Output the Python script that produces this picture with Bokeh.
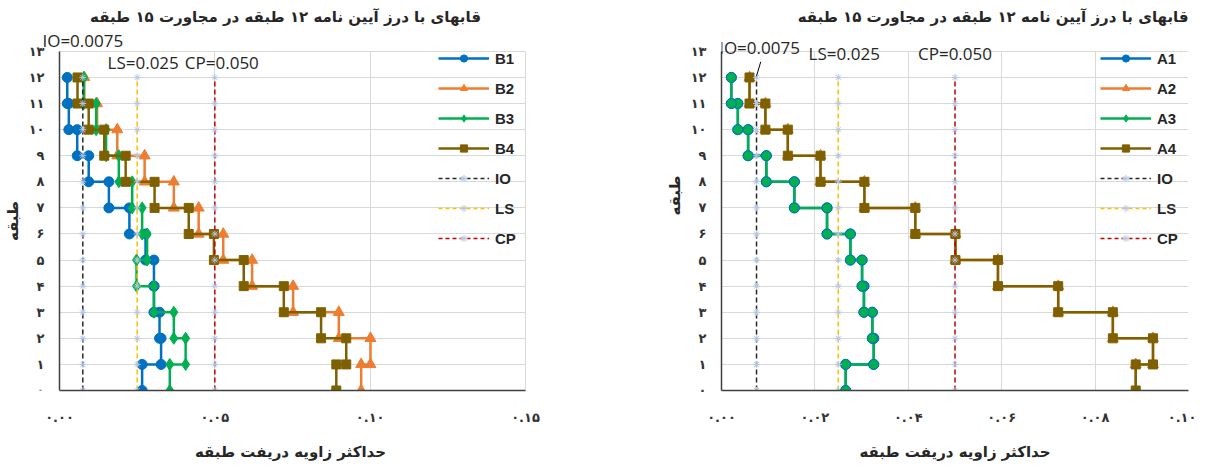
import math
from bokeh.plotting import figure
from bokeh.models import Legend, LegendItem, Label, FixedTicker, Range1d, BoxAnnotation, Grid
from bokeh.layouts import row
from bokeh.embed import file_html
from bokeh.resources import INLINE

# ---------------- data ----------------
floors = list(range(13))                      # floor levels 0..12
y_tick_values = list(range(14))
y_tick_labels = ["۰", "۱", "۲", "۳", "۴", "۵", "۶", "۷", "۸", "۹", "۱۰", "۱۱", "۱۲", "۱۳"]

x_ticks_left = [0.0, 0.05, 0.10, 0.15]
x_labels_left = ["۰.۰۰", "۰.۰۵", "۰.۱۰", "۰.۱۵"]
x_ticks_right = [0.0, 0.02, 0.04, 0.06, 0.08, 0.10]
x_labels_right = ["۰.۰۰", "۰.۰۲", "۰.۰۴", "۰.۰۶", "۰.۰۸", "۰.۱۰"]

# story drift (stories 1..12)
B1 = [0.0266, 0.0327, 0.0322, 0.0304, 0.0304, 0.0277, 0.0225, 0.0159, 0.0094, 0.0057, 0.0030, 0.0025]
B2 = [0.0971, 0.1001, 0.0899, 0.0752, 0.0620, 0.0527, 0.0448, 0.0368, 0.0274, 0.0186, 0.0121, 0.0080]
B3 = [0.0355, 0.0406, 0.0368, 0.0304, 0.0248, 0.0282, 0.0266, 0.0234, 0.0191, 0.0150, 0.0118, 0.0078]
B4 = [0.0891, 0.0923, 0.0842, 0.0722, 0.0593, 0.0497, 0.0416, 0.0306, 0.0213, 0.0144, 0.0094, 0.0058]

A1 = [0.0266, 0.0326, 0.0323, 0.0305, 0.0301, 0.0276, 0.0226, 0.0156, 0.0096, 0.0057, 0.0035, 0.0021]
A2 = [0.0887, 0.0924, 0.0838, 0.0721, 0.0592, 0.0501, 0.0415, 0.0306, 0.0212, 0.0142, 0.0094, 0.0060]
A3 = [0.0266, 0.0326, 0.0323, 0.0305, 0.0301, 0.0276, 0.0226, 0.0156, 0.0096, 0.0057, 0.0035, 0.0021]
A4 = [0.0887, 0.0924, 0.0838, 0.0721, 0.0592, 0.0501, 0.0415, 0.0306, 0.0212, 0.0142, 0.0094, 0.0060]

limit_names = ["IO", "LS", "CP"]
limit_values = [0.0075, 0.025, 0.050]
limit_texts = ["IO=0.0075", "LS=0.025", "CP=0.050"]

title_text = "قابهای با درز آیین نامه ۱۲ طبقه در مجاورت ۱۵ طبقه"
x_title = "حداکثر زاویه دریفت طبقه"
y_title = "طبقه"

# ---------------- styles ----------------
BLUE, ORANGE, GREEN, BROWN = "#0070C0", "#ED7D31", "#00B050", "#7F6000"
LIMIT_COLORS = ["#262626", "#FFC000", "#C00000"]
STAR = "#B4C7E7"
PERSIAN_FONT = "DejaVu Sans"
NAN = float("nan")
Y_LAST = 13
FRAME_H = 390
FLOOR_PX = 360 / 13.8
HAS_CROSS = "cross_bounds" in Grid.properties()


def step(d):
    xs, ys = [], []
    for i, v in enumerate(d):
        xs += [v, v]
        ys += [floors[i], floors[i + 1]]
    return xs, ys


def make_fig(fw, bl, br, xmin, xmax, xend, xt, xl, inner_axis):
    p = figure(frame_width=fw, frame_height=FRAME_H, x_range=Range1d(xmin, xend),
               y_range=Range1d(0, FRAME_H / FLOOR_PX), output_backend="svg", toolbar_location=None,
               min_border_left=bl, min_border_right=br, min_border_top=0, min_border_bottom=70,
               title=None)
    p.outline_line_color = None
    p.background_fill_color = "white"
    p.border_fill_color = "white"

    p.xaxis.ticker = FixedTicker(ticks=xt)
    p.xaxis.major_label_overrides = dict(zip(xt, xl))
    p.xaxis.bounds = (0, xmax)
    p.yaxis.ticker = FixedTicker(ticks=y_tick_values)
    p.yaxis.major_label_overrides = dict(zip(y_tick_values, y_tick_labels))
    p.yaxis.bounds = (0, Y_LAST)
    if inner_axis:
        # the y axis sits at x = 0 inside a widened plot area,
        # so that the IO label may reach left of the axis as in the original
        p.yaxis.fixed_location = 0
    for ax in (p.xaxis, p.yaxis):
        ax.major_tick_line_color = None
        ax.minor_tick_line_color = None
        ax.major_tick_out = 0
        ax.major_tick_in = 0
        ax.axis_line_color = "#404040"
        ax.axis_line_width = 1.5
        ax.major_label_text_font = PERSIAN_FONT
        ax.major_label_text_font_style = "bold"
        ax.major_label_text_font_size = "13px"
        ax.major_label_text_color = "#333333"
        ax.axis_label_text_font = PERSIAN_FONT
        ax.axis_label_text_font_style = "bold"
        ax.axis_label_text_font_size = "15px"
        ax.axis_label_text_color = "#262626"
    p.xaxis.axis_label = x_title
    p.yaxis.axis_label = y_title
    p.xaxis.major_label_standoff = 19
    p.xaxis.axis_label_standoff = 15
    p.yaxis.major_label_standoff = 15
    p.yaxis.axis_label_standoff = 4
    p.xgrid.grid_line_color = "#D9D9D9"
    p.ygrid.grid_line_color = "#D9D9D9"
    if HAS_CROSS:
        p.xgrid.cross_bounds = (0, Y_LAST)
        p.ygrid.cross_bounds = (0, xmax)
    else:
        p.add_layout(BoxAnnotation(bottom=Y_LAST, fill_color="white", fill_alpha=1,
                                   line_color=None, level="underlay"))
        if inner_axis:
            p.add_layout(BoxAnnotation(right=0, fill_color="white", fill_alpha=1,
                                       line_color=None, level="underlay"))
            p.add_layout(BoxAnnotation(left=xmax, fill_color="white", fill_alpha=1,
                                       line_color=None, level="underlay"))
    return p


def add_title(p, x, align, xoff):
    p.add_layout(Label(x=x, y=14.30, x_offset=xoff, text=title_text, text_align=align,
                       text_baseline="middle", text_font=PERSIAN_FONT, text_font_style="bold",
                       text_font_size="15px", text_color="#262626"))


def add_series(p, d, color, marker, size, line_color=None):
    xs, ys = step(d)
    p.line(xs, ys, line_color=color, line_width=2.5)
    p.scatter(xs, ys, marker=marker, size=size, fill_color=color,
              line_color=line_color or color, line_width=1)


def add_limits(p):
    for val, col in zip(limit_values, LIMIT_COLORS):
        xs = [val] * len(floors)
        p.line(xs, floors, line_color=col, line_width=1.5, line_dash="5 3")
        p.scatter(xs, floors, marker="asterisk", size=7, line_color=STAR, line_width=1)


def add_legend(p, entries, vx):
    items = []
    for name, color, marker in entries:
        lr = p.line([NAN], [NAN], line_color=color, line_width=2.5)
        sr = p.scatter([NAN], [NAN], marker=marker, fill_color=color, line_color=color)
        items.append(LegendItem(label=name, renderers=[lr, sr]))
    for name, col in zip(limit_names, LIMIT_COLORS):
        lr = p.line([NAN], [NAN], line_color=col, line_width=1.5, line_dash="4 3")
        sr = p.scatter([NAN], [NAN], marker="asterisk", line_color=STAR, line_width=1)
        items.append(LegendItem(label=name, renderers=[lr, sr]))
    lg = Legend(items=items, location=(vx, 143), margin=0, padding=0,
                background_fill_alpha=0, border_line_color=None,
                glyph_width=51, glyph_height=18, label_height=18, label_width=30,
                spacing=12, label_standoff=6,
                label_text_font="Liberation Sans", label_text_font_style="bold",
                label_text_font_size="15px", label_text_color="#262626")
    p.add_layout(lg)


def add_limit_labels(p, ys, xoffs):
    for val, txt, y, xo in zip(limit_values, limit_texts, ys, xoffs):
        p.add_layout(Label(x=val, y=y, text=txt, x_offset=xo, text_align="center",
                           text_baseline="middle", text_font="Open Sans",
                           text_font_size="17px", text_color="#262626"))


# ---------------- left chart (B) ----------------
PAD_L, PAD_R = 59, 55           # widened plot area (px) left/right of the 0..0.15 region
FW_L, FW_R = 466, 467
xmax_l = x_ticks_left[-1]
px_l = xmax_l / FW_L
pl = make_fig(FW_L + PAD_L + PAD_R, 0, 20, -PAD_L * px_l, xmax_l, xmax_l + PAD_R * px_l,
              x_ticks_left, x_labels_left, True)
add_series(pl, B1, BLUE, "circle", 10)
add_series(pl, B2, ORANGE, "triangle", 11)
add_series(pl, B3, GREEN, "diamond", 12)
add_series(pl, B4, BROWN, "square", 9)
add_limits(pl)
add_limit_labels(pl, [13.42, 12.58, 12.58], [0, 6, 7])
add_title(pl, xmax_l / 2, "center", -7)
add_legend(pl, [("B1", BLUE, "circle"), ("B2", ORANGE, "triangle"),
                ("B3", GREEN, "diamond"), ("B4", BROWN, "square")], 379 + PAD_L)

# ---------------- right chart (A) ----------------
xmax_r = x_ticks_right[-1]
pr = make_fig(FW_R, 121, 8, 0, xmax_r, xmax_r, x_ticks_right, x_labels_right, False)
add_series(pr, A1, BLUE, "circle", 10)
add_series(pr, A2, ORANGE, "triangle", 11)
add_series(pr, A3, GREEN, "circle", 10, line_color=BLUE)
add_series(pr, A4, BROWN, "square", 9)
add_limits(pr)
# short leader from the IO label to its line
pr.segment(x0=[limit_values[0]], y0=[12.05], x1=[limit_values[0] + 0.0009], y1=[12.6],
           line_color="#000000", line_width=1)
add_limit_labels(pr, [13.15, 12.9, 12.92], [3, 6, 0])
add_title(pr, xmax_r, "right", 0)
add_legend(pr, [("A1", BLUE, "circle"), ("A2", ORANGE, "triangle"),
                ("A3", GREEN, "diamond"), ("A4", BROWN, "square")], 379)

layout = row(pl, pr)
open("out.html", "w").write(file_html(layout, INLINE))
